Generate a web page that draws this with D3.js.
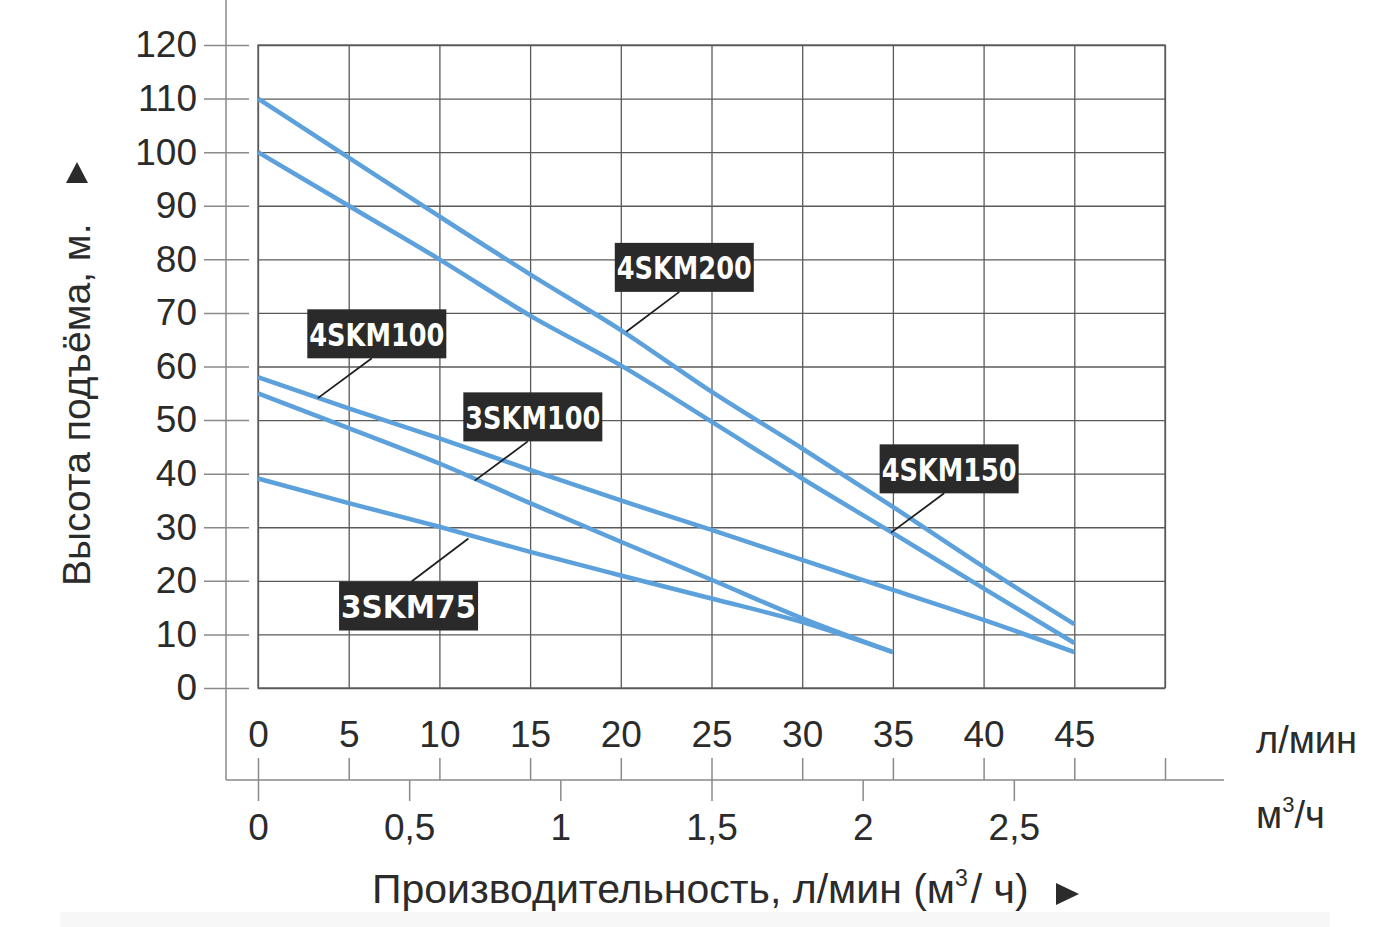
<!DOCTYPE html>
<html>
<head>
<meta charset="utf-8">
<script src="https://cdn.jsdelivr.net/npm/d3@7"></script>
<style>
  body { margin: 0; background: #fff; }
  svg { font-family: "Liberation Sans", Arial, sans-serif; }
</style>
</head>
<body>
<div id="chart"></div>
<script>
// flow, l/min
var flowLong = [0, 5, 10, 15, 20, 25, 30, 35, 40, 45];
var flowShort = [0, 5, 10, 15, 20, 25, 30, 35];

// head, m
var head4SKM200 = [110, 99, 88, 77.2, 66.8, 55.3, 44.7, 33.8, 22.6, 11.9];
var head4SKM150 = [100, 90, 80, 69.5, 60.2, 49.7, 39.1, 28.9, 18.6, 8.4];
var head4SKM100 = [58, 52.2, 46.6, 40.7, 35, 29.5, 23.9, 18.3, 12.7, 6.7];
var head3SKM100 = [55, 48.5, 41.9, 34.5, 27.3, 20.2, 13, 6.7];
var head3SKM75 = [39.1, 34.5, 30.1, 25.4, 21, 16.7, 12.3, 6.7];

var seriesNames = ["4SKM200", "4SKM150", "4SKM100", "3SKM100", "3SKM75"];
var seriesFlow = [flowLong, flowLong, flowLong, flowShort, flowShort];
var seriesHead = [head4SKM200, head4SKM150, head4SKM100, head3SKM100, head3SKM75];

// label box centre and leader end, in (l/min, m)
var labelAt = [[23.5, 78.5], [38.1, 40.9], [6.55, 66.1], [15.15, 50.6], [8.3, 15.3]];
var leaderTo = [[20.3, 66.5], [34.9, 29.0], [3.3, 54.1], [11.95, 38.7], [11.6, 27.9]];

var yTicks = d3.range(0, 121, 10);
var lpmTicks = d3.range(0, 51, 5);
var m3Ticks = [0, 0.5, 1, 1.5, 2, 2.5];

var W = 1381, H = 927;
var plotL = 258, plotR = 1165, plotT = 45, plotB = 688;

var svg = d3.select("#chart").append("svg")
    .attr("width", W)
    .attr("height", H);

// faint band at the bottom
svg.append("rect")
    .attr("x", 60).attr("y", 912)
    .attr("width", 1270).attr("height", 15)
    .attr("fill", "#f7f7f7");

var x = d3.scaleLinear().domain([0, 50]).range([plotL, plotR]);
var xm3 = d3.scaleLinear().domain([0, 3]).range([plotL, plotR]);
var y = d3.scaleLinear().domain([0, 120]).range([plotB, plotT]);

var gridColor = "#5a5a5a";
var axisColor = "#8a8a8a";
var textColor = "#2b2b2b";

// grid
svg.append("g")
    .attr("transform", "translate(0," + plotB + ")")
    .call(d3.axisBottom(x).tickValues(lpmTicks).tickSize(-(plotB - plotT)).tickFormat(""))
    .call(g => g.select(".domain").remove())
    .selectAll("line").attr("stroke", gridColor).attr("stroke-width", 1.3);

svg.append("g")
    .attr("transform", "translate(" + plotL + ",0)")
    .call(d3.axisLeft(y).tickValues(yTicks).tickSize(-(plotR - plotL)).tickFormat(""))
    .call(g => g.select(".domain").remove())
    .selectAll("line").attr("stroke", gridColor).attr("stroke-width", 1.3);

svg.append("rect")
    .attr("x", plotL).attr("y", plotT)
    .attr("width", plotR - plotL).attr("height", plotB - plotT)
    .attr("fill", "none").attr("stroke", gridColor).attr("stroke-width", 1.3);

// outer axis frame
svg.append("line").attr("x1", 226).attr("x2", 226).attr("y1", 0).attr("y2", 780)
    .attr("stroke", axisColor).attr("stroke-width", 1.5);
svg.append("line").attr("x1", 226).attr("x2", 1224).attr("y1", 780).attr("y2", 780)
    .attr("stroke", axisColor).attr("stroke-width", 1.5);

// y axis ticks + labels
var yAxis = svg.append("g")
    .attr("transform", "translate(249,0)")
    .call(d3.axisLeft(y).tickValues(yTicks).tickSize(45).tickPadding(7));
yAxis.select(".domain").remove();
yAxis.selectAll("line").attr("stroke", axisColor).attr("stroke-width", 1.5);
yAxis.selectAll("text")
    .attr("fill", textColor)
    .style("font-size", "37px")
    .style("font-family", "'Liberation Sans', Arial, sans-serif");

// l/min axis (ticks upward)
var lpmAxis = svg.append("g")
    .attr("transform", "translate(0,780)")
    .call(d3.axisTop(x).tickValues(lpmTicks).tickSize(22).tickPadding(11)
        .tickFormat(d => d === 50 ? "" : d));
lpmAxis.select(".domain").remove();
lpmAxis.selectAll("line").attr("stroke", axisColor).attr("stroke-width", 1.5);
lpmAxis.selectAll("text")
    .attr("fill", textColor)
    .style("font-size", "37px")
    .style("font-family", "'Liberation Sans', Arial, sans-serif");

// m3/h axis (ticks downward)
var m3Axis = svg.append("g")
    .attr("transform", "translate(0,780)")
    .call(d3.axisBottom(xm3).tickValues(m3Ticks).tickSize(21).tickPadding(13)
        .tickFormat(d => String(d).replace(".", ",")));
m3Axis.select(".domain").remove();
m3Axis.selectAll("line").attr("stroke", axisColor).attr("stroke-width", 1.5);
m3Axis.selectAll("text")
    .attr("fill", textColor)
    .style("font-size", "37px")
    .style("font-family", "'Liberation Sans', Arial, sans-serif");

// unit labels
svg.append("text")
    .attr("x", 1256).attr("y", 753)
    .attr("fill", textColor).style("font-size", "38px")
    .text("л/мин");

var m3Label = svg.append("text")
    .attr("x", 1256).attr("y", 828)
    .attr("fill", textColor).style("font-size", "38px");
m3Label.append("tspan").text("м");
m3Label.append("tspan").attr("dy", -16).style("font-size", "22px").text("3");
m3Label.append("tspan").attr("dy", 16).text("/ч");

// x title
var xTitle = svg.append("text")
    .attr("x", 372).attr("y", 903)
    .attr("fill", textColor).style("font-size", "41px");
xTitle.append("tspan").text("Производительность, л/мин (м");
xTitle.append("tspan").attr("dy", -17).style("font-size", "23px").text("3");
xTitle.append("tspan").attr("dy", 17).text("/ ч)").attr("dx", 3);

svg.append("path")
    .attr("d", "M1056,883 L1079,894 L1056,905 Z")
    .attr("fill", textColor);

// y title
svg.append("text")
    .attr("transform", "translate(90,586) rotate(-90)")
    .attr("fill", textColor).style("font-size", "39px")
    .text("Высота подъёма, м.");

svg.append("path")
    .attr("d", "M66,183 L77,162 L88,183 Z")
    .attr("fill", textColor);

// curves
var line = d3.line()
    .x(d => x(d[0]))
    .y(d => y(d[1]))
    .curve(d3.curveMonotoneX);

seriesNames.forEach(function (name, i) {
    var pts = seriesFlow[i].map((f, j) => [f, seriesHead[i][j]]);
    svg.append("path")
        .datum(pts)
        .attr("class", "curve")
        .attr("d", line)
        .attr("fill", "none")
        .attr("stroke", "#5ca1db")
        .attr("stroke-width", 4.5)
        .attr("stroke-linecap", "butt");
});

// labels with leader lines
var boxW = 139, boxH = 49;
seriesNames.forEach(function (name, i) {
    var cx = x(labelAt[i][0]), cy = y(labelAt[i][1]);
    var tx = x(leaderTo[i][0]), ty = y(leaderTo[i][1]);
    // leader starts at box edge (bottom or top) near centre
    var sy = ty > cy ? cy + boxH / 2 : cy - boxH / 2;
    var sx = cx + (ty > cy ? -5 : 3);
    svg.append("line")
        .attr("x1", sx).attr("y1", sy)
        .attr("x2", tx).attr("y2", ty)
        .attr("stroke", "#1e1e1e").attr("stroke-width", 1.8);
    svg.append("rect")
        .attr("x", cx - boxW / 2).attr("y", cy - boxH / 2)
        .attr("width", boxW).attr("height", boxH)
        .attr("fill", "#2a2a2a");
    svg.append("text")
        .attr("x", cx).attr("y", cy + 12)
        .attr("text-anchor", "middle")
        .attr("fill", "#fff")
        .attr("textLength", 135)
        .attr("lengthAdjust", "spacingAndGlyphs")
        .style("font-family", "'DejaVu Sans Condensed', 'DejaVu Sans', sans-serif")
        .style("font-weight", "bold")
        .style("font-size", "32px")
        .text(name);
});
</script>
</body>
</html>
